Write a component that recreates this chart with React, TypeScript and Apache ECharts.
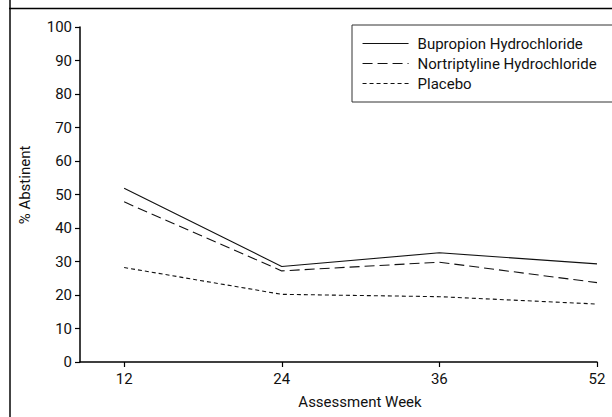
import React, { useEffect, useRef } from "react";
import * as echarts from "echarts";

const weeks = ["12", "24", "36", "52"];
const seriesNames = ["Bupropion Hydrochloride", "Nortriptyline Hydrochloride", "Placebo"];
const bupropion = [51.9, 28.5, 32.6, 29.3];
const nortriptyline = [47.8, 27.2, 29.8, 23.7];
const placebo = [28.2, 20.2, 19.5, 17.3];
const yTicks = [0, 10, 20, 30, 40, 50, 60, 70, 80, 90, 100];

const FONT = "Roboto, 'DejaVu Sans Condensed', sans-serif";

export default function App() {
  const ref = useRef<HTMLDivElement>(null);
  useEffect(() => {
    if (!ref.current) return;
    const chart = echarts.init(ref.current, null, { renderer: "svg" });
    const idx = weeks.map((_, i) => i);
    const mk = (name: string, vals: number[], type: any) => ({
      name,
      type: "line",
      data: vals.map((v, i) => [i, v]),
      symbol: "none",
      showSymbol: false,
      lineStyle: { color: "#111", width: 1.1, type },
      itemStyle: { color: "#111" },
      emphasis: { disabled: true },
    });
    chart.setOption({
      animation: false,
      backgroundColor: "#fff",
      textStyle: { fontFamily: FONT },
      grid: { left: 80, right: 15, top: 27, bottom: 55, containLabel: false },
      xAxis: {
        type: "value",
        min: -0.28,
        max: 3,
        axisLine: { show: true, onZero: false, lineStyle: { color: "#000", width: 1.5 } },
        axisTick: { show: true, customValues: idx, length: 5, lineStyle: { color: "#000", width: 1.2 } },
        axisLabel: {
          customValues: idx,
          formatter: (v: number) => weeks[Math.round(v)] ?? "",
          color: "#111",
          fontSize: 15,
          fontFamily: FONT,
          margin: 9,
        },
        splitLine: { show: false },
      },
      yAxis: {
        type: "value",
        min: 0,
        max: 100,
        interval: 10,
        axisLine: { show: true, onZero: false, lineStyle: { color: "#000", width: 1.5 } },
        axisTick: { show: true, length: 5, lineStyle: { color: "#000", width: 1.2 } },
        axisLabel: {
          color: "#111",
          fontSize: 15,
          fontFamily: FONT,
          margin: 8,
          formatter: (v: number) => (yTicks.includes(v) ? String(v) : ""),
        },
        splitLine: { show: false },
      },
      legend: {
        left: 352,
        top: 25,
        orient: "vertical",
        data: seriesNames,
        itemWidth: 46,
        itemHeight: 14,
        itemGap: 5,
        padding: [11, 29, 11, 10],
        borderColor: "#333",
        borderWidth: 1,
        itemStyle: { opacity: 0, borderWidth: 0 },
        lineStyle: { width: 1.1 },
        textStyle: { color: "#111", fontSize: 15, fontFamily: FONT, padding: [0, 0, 0, 4] },
        selectedMode: false,
      },
      graphic: [
        { type: "line", shape: { x1: 10, y1: 0, x2: 10, y2: 417 }, style: { stroke: "#444", lineWidth: 2 } },
        { type: "line", shape: { x1: 9, y1: 8.5, x2: 612, y2: 8.5 }, style: { stroke: "#000", lineWidth: 1.5 } },
        {
          type: "text",
          x: 25,
          y: 185,
          rotation: Math.PI / 2,
          style: { text: "% Abstinent", fontSize: 15, fontFamily: FONT, fill: "#111", align: "center", verticalAlign: "middle" },
        },
        {
          type: "text",
          x: 360,
          y: 402,
          style: { text: "Assessment Week", fontSize: 15, fontFamily: FONT, fill: "#111", align: "center", verticalAlign: "middle" },
        },
      ],
      series: [
        mk(seriesNames[0], bupropion, "solid"),
        mk(seriesNames[1], nortriptyline, [10, 5]),
        mk(seriesNames[2], placebo, [4, 3]),
      ],
    });
    return () => chart.dispose();
  }, []);
  return (
    <div
      ref={ref}
      style={{ position: "absolute", left: 0, top: 0, width: 612, height: 417 }}
    />
  );
}
